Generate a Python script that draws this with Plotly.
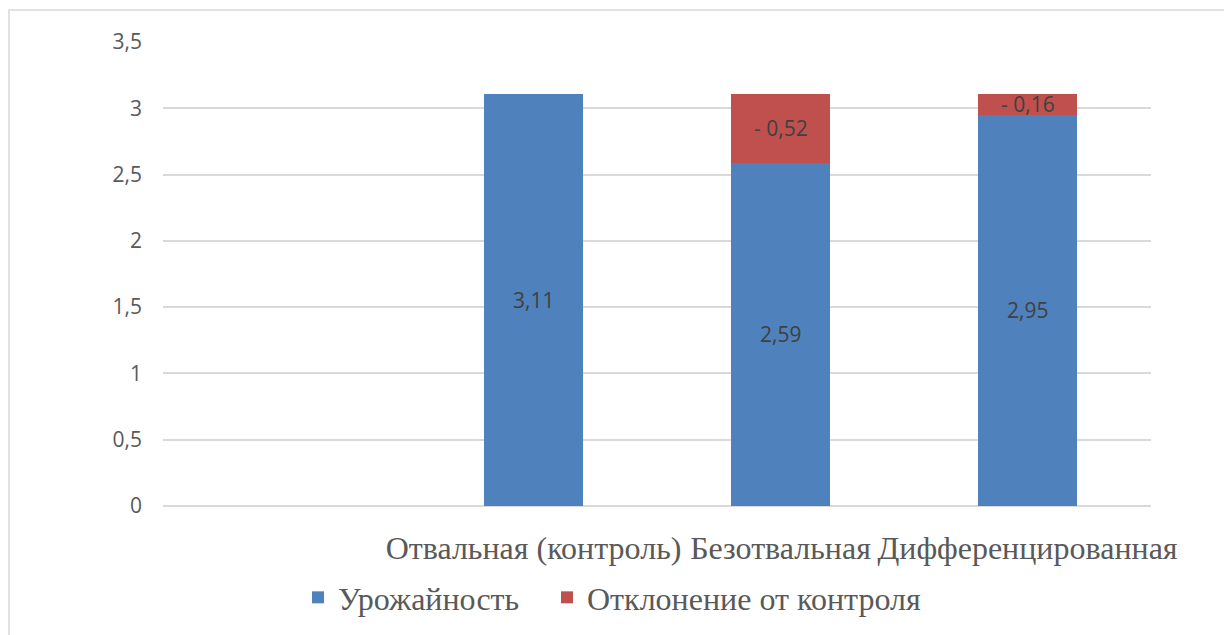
import plotly.graph_objects as go

# Tillage variants (first slot intentionally left blank)
categories = [" ", "Отвальная (контроль)", "Безотвальная", "Дифференцированная"]
yield_values = [0, 3.11, 2.59, 2.95]
deviation_values = [0, 0, 0.52, 0.16]

series_names = ["Урожайность", "Отклонение от контроля"]
y_tick_vals = [0, 0.5, 1, 1.5, 2, 2.5, 3, 3.5]
y_tick_text = ["0", "0,5", "1", "1,5", "2", "2,5", "3", "3,5"]

BLUE = "#4F81BD"
RED = "#C0504D"

fig = go.Figure()
fig.add_trace(go.Bar(
    x=categories, y=yield_values, name=series_names[0], legend="legend",
    marker=dict(color=BLUE, line=dict(width=0)), width=0.4,
))
fig.add_trace(go.Bar(
    x=categories, y=deviation_values, name=series_names[1], legend="legend2",
    marker=dict(color=RED, line=dict(width=0)), width=0.4,
))

def fmt(v):
    return f"{v:.2f}".replace(".", ",")

label_font = dict(size=21, color="#404040", family="Open Sans")
annotations = []
for c, y, d in zip(categories, yield_values, deviation_values):
    if y > 0:
        annotations.append(dict(x=c, y=y / 2, text=fmt(y), showarrow=False, font=label_font))
    if d > 0:
        annotations.append(dict(x=c, y=y + d / 2, text="- " + fmt(d), showarrow=False, font=label_font))

# Outer chart border
shapes = [dict(type="rect", xref="paper", yref="paper",
               x0=(9 - 163) / 988, x1=(1240 - 163) / 988,
               y0=(506 - 650) / 464, y1=1 + 32 / 464,
               line=dict(color="#D9D9D9", width=1.5), fillcolor="rgba(0,0,0,0)", layer="below")]

legend_font = dict(family="Liberation Serif", size=32, color="#595959")
legend_common = dict(orientation="h", xanchor="left", y=-0.138, yanchor="top",
                     font=legend_font, itemwidth=30)

fig.update_layout(
    width=1224, height=635,
    margin=dict(l=163, r=73, t=42, b=129, autoexpand=False),
    barmode="stack", bargap=0.6,
    plot_bgcolor="white", paper_bgcolor="white",
    annotations=annotations, shapes=shapes,
    showlegend=True,
    legend=dict(x=(298 - 163) / 988, **legend_common),
    legend2=dict(x=(547 - 163) / 988, **legend_common),
    xaxis=dict(type="category", showgrid=False, showline=False, ticks="",
               automargin=False,
               tickfont=dict(family="Liberation Serif", size=32, color="#595959"),
               ticklabelstandoff=20),
    yaxis=dict(range=[0, 3.5], tickvals=y_tick_vals, ticktext=y_tick_text,
               automargin=False,
               showgrid=True, gridcolor="#D9D9D9", gridwidth=1.5,
               zeroline=True, zerolinecolor="#D9D9D9", zerolinewidth=1.5,
               showline=False, ticks="",
               tickfont=dict(family="Open Sans", size=21, color="#595959"),
               ticklabelstandoff=20),
)

fig.write_html("out.html")
